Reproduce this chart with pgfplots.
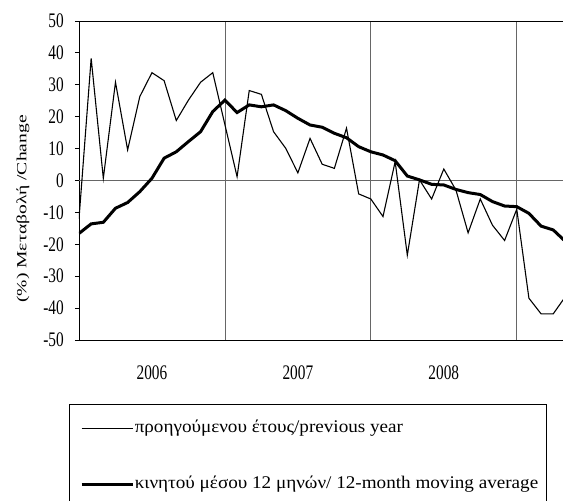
\documentclass[border=0pt]{standalone}
\usepackage{fontspec}
\setmainfont{Liberation Serif}
\newfontfamily\tickfont{Liberation Serif}[FakeStretch=0.74]
\newfontfamily\legfont{Liberation Serif}[FakeStretch=1.075]
\newfontfamily\ylabfont{Liberation Serif}[FakeStretch=1.4]
\usepackage{pgfplots}
\pgfplotsset{compat=1.18}
\pgfplotstableread{
i thin thick
0 -12 -16.6
1 38.3 -13.6
2 0.7 -13.1
3 30.8 -8.7
4 9.6 -6.9
5 26.3 -3.5
6 33.8 0.7
7 31.3 7.0
8 18.8 9.0
9 25.2 12.2
10 30.8 15.3
11 33.8 21.6
12 17.5 25.2
13 1.2 21.3
14 28.2 23.7
15 27.0 23.1
16 15.3 23.7
17 10.1 21.9
18 2.4 19.5
19 13.2 17.4
20 5.1 16.7
21 3.8 14.8
22 16.4 13.4
23 -4.2 10.6
24 -5.8 9.0
25 -11.3 8.0
26 5.9 6.2
27 -23.4 1.4
28 0.2 0.2
29 -5.8 -1.2
30 3.6 -1.4
31 -3 -2.8
32 -16.4 -3.8
33 -5.8 -4.4
34 -14 -6.6
35 -18.8 -8.0
36 -9 -8.2
37 -36.9 -10.3
38 -41.8 -14.3
39 -41.8 -15.5
40 -36.4 -19.1
}\data
\begin{document}
\begin{tikzpicture}[x=1pt,y=1pt]
\path[use as bounding box] (0,0) rectangle (563,501);
\clip (0,0) rectangle (563,501);
\draw[line width=0.8pt] (69.3,-10) -- (69.3,96.7) -- (546.5,96.7) -- (546.5,-10);
\begin{axis}[
  at={(79pt,161pt)}, anchor=south west,
  scale only axis, width=486.4pt, height=319pt,
  xmin=0, xmax=40, ymin=-50, ymax=50,
  axis line style={line width=0.8pt},
  ytick={-50,-40,...,50},
  ytick pos=left, tick align=outside,
  y tick style={line width=0.8pt, black},
  major tick length=4pt,
  xtick={12,24,36}, xticklabels={},
  x tick style={draw=none},
  xmajorgrids,
  major x grid style={black!60, line width=0.8pt},
  extra x ticks={6,18,30},
  extra x tick labels={2006,2007,2008},
  extra x tick style={grid=none, major tick length=0pt,
     xticklabel style={anchor=center, yshift=-32.5pt}},
  /pgf/number format/assume math mode=true,
  tick label style={font=\tickfont\fontsize{20.7}{24}\selectfont},
  yticklabel style={anchor=east, inner sep=0pt, xshift=-11pt},
  ylabel={(\%) Μεταβολή /Change},
  ylabel style={at={(axis description cs:-0.115,0.4107)}, anchor=center, font=\ylabfont\fontsize{14}{16}\selectfont},
  legend style={at={(axis description cs:0.002,-0.2490)}, anchor=north west,
     draw=none, fill=none, inner sep=0pt, row sep=40pt,
     nodes={inner sep=0.6pt}, font=\legfont\fontsize{17.8}{20}\selectfont},
  legend cell align=left,
  legend image code/.code={\draw[#1] (0pt,-1.5pt) -- (51pt,-1.5pt);},
]
\draw[black!60, line width=0.8pt] (axis cs:0,0) -- (axis cs:40,0);
\addplot[black, line width=1.1pt] table[x=i, y=thin] {\data};
\addlegendentry{προηγούμενου έτους/previous year}
\addplot[black, line width=3pt] table[x=i, y=thick] {\data};
\addlegendentry{κινητού μέσου 12 μηνών/ 12-month moving average}
\end{axis}
\end{tikzpicture}
\end{document}
